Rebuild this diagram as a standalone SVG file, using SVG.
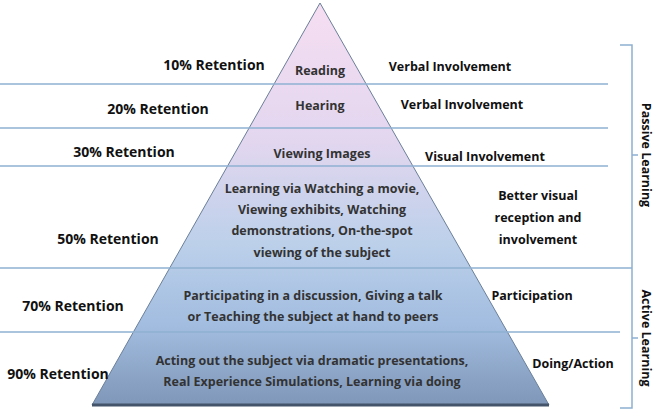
<svg xmlns="http://www.w3.org/2000/svg" width="657" height="411" viewBox="0 0 657 411">
<style>
text{font-family:"Open Sans","Liberation Sans",sans-serif;font-weight:bold;font-size:12.5px;fill:#111}
.c{text-anchor:middle;fill:#333}
.r{text-anchor:middle;font-size:14px}
.l{stroke:#8fb0d2;stroke-width:1.5;fill:none}
</style>
<defs>
<linearGradient id="g" x1="0" y1="0" x2="0" y2="1">
<stop offset="0" stop-color="#f6def2"/>
<stop offset="0.35" stop-color="#e2d6ef"/>
<stop offset="0.6" stop-color="#bcd0ea"/>
<stop offset="0.8" stop-color="#a2bde0"/>
<stop offset="1" stop-color="#7f97b8"/>
</linearGradient>
</defs>
<g id="pyramid">
<polygon points="320,3 549,405 92,405" fill="url(#g)" stroke="#6a7f99" stroke-width="1"/>
<line x1="92" y1="405" x2="549" y2="405" stroke="#44556b" stroke-width="3"/>
</g>
<g id="connectors">
<line class="l" x1="0" y1="84" x2="608" y2="84"/>
<line class="l" x1="0" y1="128" x2="608" y2="128"/>
<line class="l" x1="0" y1="166" x2="608" y2="166"/>
<line class="l" x1="0" y1="268" x2="632" y2="268"/>
<line class="l" x1="0" y1="332" x2="620" y2="332"/>
<path class="l" d="M620,45 H632 V268 M632,155 H638"/>
<path class="l" d="M632,268 V408 H620 M632,338 H638"/>
</g>
<g id="tier1"><text class="r" x="214" y="70">10% Retention</text><text class="c" x="320" y="75">Reading</text><text x="450" y="71" text-anchor="middle" font-size="11.5">Verbal Involvement</text></g>
<g id="tier2"><text class="r" x="158" y="114">20% Retention</text><text class="c" x="320" y="110">Hearing</text><text x="462" y="109" text-anchor="middle" font-size="11.5">Verbal Involvement</text></g>
<g id="tier3"><text class="r" x="124" y="157">30% Retention</text><text class="c" x="322" y="158">Viewing Images</text><text x="485" y="161" text-anchor="middle" font-size="11.5">Visual Involvement</text></g>
<g id="tier4"><text class="r" x="108" y="244">50% Retention</text>
<text class="c" x="322" y="193">Learning via Watching a movie,</text>
<text class="c" x="322" y="214">Viewing exhibits, Watching</text>
<text class="c" x="322" y="235">demonstrations, On-the-spot</text>
<text class="c" x="322" y="257">viewing of the subject</text>
<text x="538" y="200" text-anchor="middle" font-size="11.5">Better visual</text>
<text x="538" y="222" text-anchor="middle" font-size="11.5">reception and</text>
<text x="538" y="244" text-anchor="middle" font-size="11.5">involvement</text></g>
<g id="tier5"><text class="r" x="73" y="311">70% Retention</text>
<text class="c" x="313" y="300">Participating in a discussion, Giving a talk</text>
<text class="c" x="313" y="321">or Teaching the subject at hand to peers</text>
<text x="532" y="300" text-anchor="middle" font-size="11.5">Participation</text></g>
<g id="tier6"><text class="r" x="58" y="379">90% Retention</text>
<text class="c" x="312" y="365">Acting out the subject via dramatic presentations,</text>
<text class="c" x="312" y="386">Real Experience Simulations, Learning via doing</text>
<text x="573" y="368" text-anchor="middle" font-size="11.5">Doing/Action</text></g>
<g id="groups">
<text transform="translate(642,155) rotate(90)" text-anchor="middle" font-size="15.5">Passive Learning</text>
<text transform="translate(642,338) rotate(90)" text-anchor="middle" font-size="15.5">Active Learning</text>
</g>
</svg>
